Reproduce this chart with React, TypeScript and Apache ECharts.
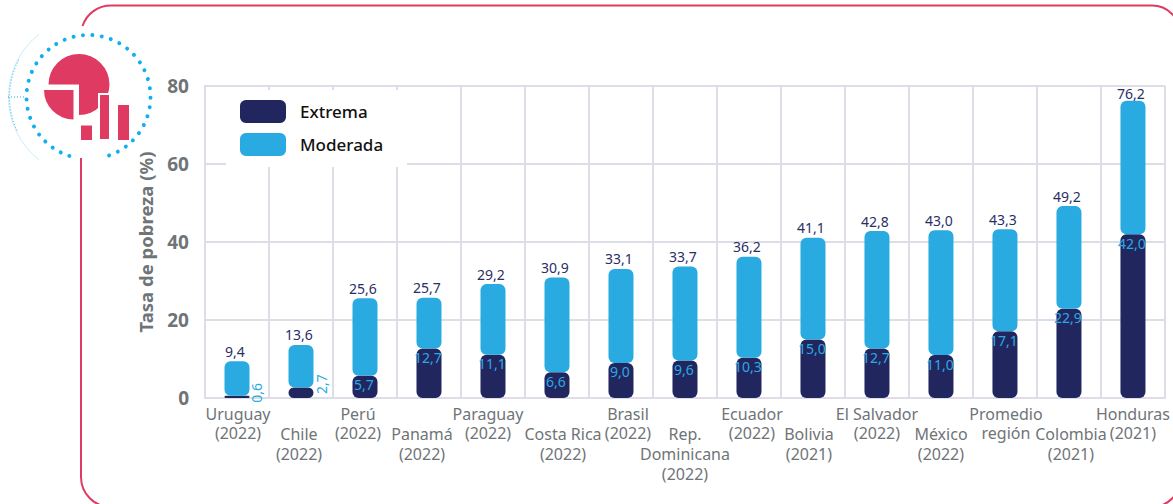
import React, { useEffect, useRef } from "react";
import * as echarts from "echarts";

const categories = [
  "Uruguay\n(2022)", "Chile\n(2022)", "Perú\n(2022)", "Panamá\n(2022)", "Paraguay\n(2022)",
  "Costa Rica\n(2022)", "Brasil\n(2022)", "Rep.\nDominicana\n(2022)", "Ecuador\n(2022)", "Bolivia\n(2021)",
  "El Salvador\n(2022)", "México\n(2022)", "Promedio\nregión", "Colombia\n(2021)", "Honduras\n(2021)",
];
const extrema = [0.6, 2.7, 5.7, 12.7, 11.1, 6.6, 9.0, 9.6, 10.3, 15.0, 12.7, 11.0, 17.1, 22.9, 42.0];
const moderada = [8.8, 10.9, 19.9, 13.0, 18.1, 24.3, 24.1, 24.1, 25.9, 26.1, 30.1, 32.0, 26.2, 26.3, 34.2];
const totals = [9.4, 13.6, 25.6, 25.7, 29.2, 30.9, 33.1, 33.7, 36.2, 41.1, 42.8, 43.0, 43.3, 49.2, 76.2];
const labelShift = [1, -2, -7, -7, -5, 6, 7, 0, 3, -4, 0, 0, 1, 2, 0];

const PINK = "#df3a61";
const NAVY = "#22265f";
const BLUE = "#29abe2";
const GREY = "#6f7477";
const GRID = "#dcdde6";

const comma = (v: number) => v.toFixed(1).replace(".", ",");
const rad = (d: number) => (d * Math.PI) / 180;

echarts.graphic.registerShape(
  "frameLine",
  echarts.graphic.extendPath(
    "M82.5 26 A30 30 0 0 1 111 5.5 L1152 5.5 A28 28 0 0 1 1180 33.5 L1180 479 A28 28 0 0 1 1152 507 L111 507 A30 30 0 0 1 81 477 L81 158",
    {}
  )
);

function buildRich() {
  const rich: Record<string, any> = {
    blank: { fontFamily: "Noto Sans", fontSize: 16, lineHeight: 20, color: "transparent" },
  };
  labelShift.forEach((dx, i) => {
    rich[`l${i}`] = {
      fontFamily: "Noto Sans", fontSize: 16, color: GREY,
      lineHeight: i % 2 === 1 ? 20 : 19,
      padding: [0, dx < 0 ? -2 * dx : 0, 0, dx > 0 ? 2 * dx : 0],
    };
  });
  return rich;
}

const App = () => {
  const ref = useRef<HTMLDivElement>(null);
  useEffect(() => {
    const chart = echarts.init(ref.current!, undefined, { renderer: "svg" });
    chart.setOption({
      animation: false,
      backgroundColor: "#fff",
      textStyle: { fontFamily: "Noto Sans" },
      grid: { left: 205, top: 86, width: 960, height: 312, containLabel: false },
      legend: {
        left: 226, top: 90, orient: "vertical",
        padding: [10, 24, 11, 14],
        backgroundColor: "#fff",
        itemWidth: 46, itemHeight: 23, itemGap: 10,
        icon: "roundRect",
        textStyle: { fontFamily: "Noto Sans", fontSize: 17, fontWeight: 500, color: "#111", padding: [0, 0, 0, 9] },
        data: ["Extrema", "Moderada"],
      },
      xAxis: {
        type: "category", data: categories,
        axisLine: { lineStyle: { color: GRID, width: 2 } },
        axisTick: { show: false },
        splitLine: { show: true, interval: 0, lineStyle: { color: GRID, width: 2 } },
        axisLabel: {
          interval: 0, margin: 6,
          rich: buildRich(),
          formatter: (value: string, idx: number) => {
            const lines = value.split("\n").map((line) => `{l${idx}|${line}}`);
            if (idx % 2 === 1) lines.unshift("{blank|\u00A0}");
            return lines.join("\n");
          },
        },
      },
      yAxis: {
        type: "value", min: 0, max: 80, interval: 20,
        name: "Tasa de pobreza (%)", nameLocation: "middle", nameGap: 50,
        nameTextStyle: { fontFamily: "Noto Sans", fontSize: 18.5, fontWeight: "bold", color: GREY },
        axisLine: { show: true, lineStyle: { color: GRID, width: 2 } },
        axisTick: { show: false },
        splitLine: { show: true, lineStyle: { color: GRID, width: 2 } },
        axisLabel: { fontFamily: "Noto Sans", fontSize: 19, fontWeight: "bold", color: GREY, margin: 16, padding: [0, 0, 4, 0] },
      },
      series: [
        {
          name: "Extrema", type: "bar", stack: "p", barWidth: 25,
          itemStyle: { color: NAVY, borderRadius: 6 },
          label: {
            show: true, position: "insideTop", distance: 2, offset: [-1, 0],
            fontFamily: "Noto Sans", fontSize: 14, color: BLUE,
            formatter: (p: any) => comma(p.value),
          },
          data: extrema.map((v, i) =>
            i < 2
              ? {
                  value: v,
                  label: {
                    position: "right", rotate: 90, distance: 0, align: "center", verticalAlign: "middle",
                    offset: i === 0 ? [4, 7.5] : [8.7, 8.5],
                  },
                }
              : v
          ),
        },
        {
          name: "Moderada", type: "bar", stack: "p", barWidth: 25,
          itemStyle: { color: BLUE, borderRadius: 6 },
          label: {
            show: true, position: "top", distance: 3, offset: [-2, 0],
            fontFamily: "Noto Sans", fontSize: 14, color: "#2b2e66",
            formatter: (p: any) => comma(totals[p.dataIndex]),
          },
          data: moderada.map((v, i) =>
            i === 14 ? { value: v, label: { distance: 0 } } : v
          ),
        },
      ],
      graphic: {
        elements: [
          { type: "frameLine", silent: true, style: { fill: "none", stroke: PINK, lineWidth: 2 } },
          { type: "arc", silent: true, shape: { cx: 88.5, cy: 97, r: 62, startAngle: rad(108), endAngle: rad(439), clockwise: true },
            style: { fill: "none", stroke: "#0eb0ee", lineWidth: 4, lineCap: "round", lineDash: [0.01, 9.4] } },
          { type: "arc", silent: true, shape: { cx: 88.5, cy: 97, r: 80, startAngle: rad(128), endAngle: rad(232), clockwise: true },
            style: { fill: "none", stroke: "#b5e4f6", lineWidth: 0.7 } },
          { type: "arc", silent: true, shape: { cx: 88.5, cy: 97, r: 79, startAngle: rad(155), endAngle: rad(208), clockwise: true },
            style: { fill: "none", stroke: "#29abe2", lineWidth: 1, lineDash: [1, 2] } },
          { type: "line", silent: true, shape: { x1: 8, y1: 97, x2: 26, y2: 97 },
            style: { stroke: "#29abe2", lineWidth: 1, lineDash: [1, 2] } },
          { type: "sector", silent: true, shape: { cx: 79, cy: 84.5, r: 30.5, startAngle: rad(180), endAngle: rad(450), clockwise: true },
            style: { fill: PINK } },
          { type: "sector", silent: true, shape: { cx: 73.5, cy: 90, r: 29.5, startAngle: rad(90), endAngle: rad(180), clockwise: true },
            style: { fill: PINK } },
          { type: "rect", silent: true, shape: { x: 81, y: 125.5, width: 11, height: 14.5 }, style: { fill: PINK } },
          { type: "rect", silent: true, shape: { x: 99, y: 94, width: 11, height: 46 }, style: { fill: PINK, stroke: "#fff", lineWidth: 2 } },
          { type: "rect", silent: true, shape: { x: 118, y: 105, width: 11, height: 35 }, style: { fill: PINK } },
        ],
      },
    });
    return () => chart.dispose();
  }, []);
  return <div ref={ref} style={{ position: "absolute", left: 0, top: 0, width: 1173, height: 504 }} />;
};

export default App;
